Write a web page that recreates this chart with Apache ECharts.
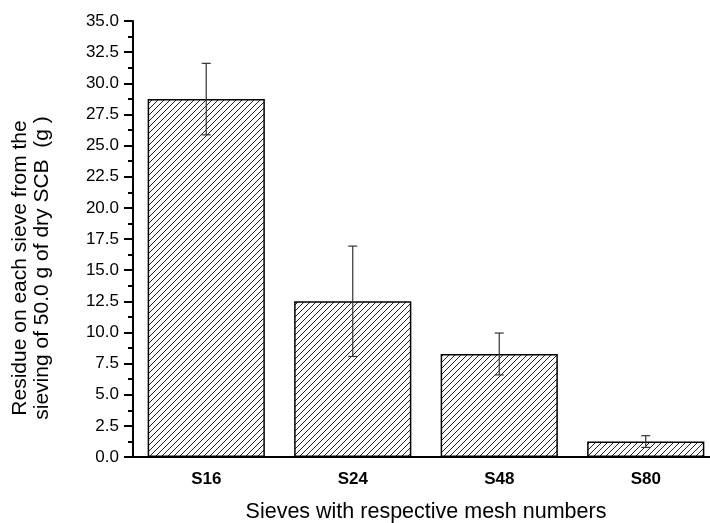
<!DOCTYPE html>
<html>
<head>
<meta charset="utf-8">
<script src="https://cdn.jsdelivr.net/npm/echarts@6/dist/echarts.min.js"></script>
<style>html,body{margin:0;padding:0;background:#fff}#c{width:710px;height:523px}</style>
</head>
<body>
<div id="c"></div>
<script>
const categories = ['S16', 'S24', 'S48', 'S80'];
const residue = [28.73, 12.5, 8.27, 1.24];
const errors = [2.87, 4.43, 1.68, 0.47];

function hatch() {
  const s = 6, c = document.createElement('canvas');
  c.width = s; c.height = s;
  const g = c.getContext('2d');
  g.strokeStyle = '#222'; g.lineWidth = 1;
  g.beginPath();
  g.moveTo(-1, s + 1); g.lineTo(s + 1, -1);
  g.moveTo(-1, 1); g.lineTo(1, -1);
  g.moveTo(s - 1, s + 1); g.lineTo(s + 1, s - 1);
  g.stroke();
  return c;
}

const chart = echarts.init(document.getElementById('c'), null, {renderer: 'canvas'});
const font = 'Liberation Sans, Arial, sans-serif';
chart.setOption({
  animation: false,
  backgroundColor: '#fff',
  grid: {left: 133, top: 21, height: 436, width: 586, containLabel: false, outerBoundsMode: 'none'},
  xAxis: [{
    type: 'category', data: categories, position: 'bottom',
    axisLine: {lineStyle: {color: '#000', width: 2}},
    axisTick: {alignWithLabel: true, length: 8, lineStyle: {color: '#000', width: 2}},
    axisLabel: {color: '#000', fontWeight: 'bold', fontSize: 17, fontFamily: font, margin: 14},
    name: 'Sieves with respective mesh numbers', nameLocation: 'middle', nameGap: 44,
    nameTextStyle: {color: '#000', fontSize: 21.5, fontFamily: font}
  }, {
    type: 'category', data: categories, position: 'bottom',
    axisLine: {show: false},
    axisTick: {length: 5, lineStyle: {color: '#000', width: 2}},
    axisLabel: {show: false}
  }],
  yAxis: {
    type: 'value', min: 0, max: 35, interval: 2.5,
    axisLine: {show: true, lineStyle: {color: '#000', width: 2}},
    axisTick: {show: true, length: 9, lineStyle: {color: '#000', width: 2}},
    minorTick: {show: true, splitNumber: 2, length: 5, lineStyle: {color: '#000', width: 2}},
    splitLine: {show: false},
    axisLabel: {color: '#000', fontSize: 17, fontFamily: font, margin: 14, formatter: v => v.toFixed(1)},
    name: 'Residue on each sieve from the\nsieving of 50.0 g of dry SCB  (g )',
    nameLocation: 'middle', nameGap: 80,
    nameTextStyle: {color: '#000', fontSize: 21, fontFamily: font, lineHeight: 22, padding: [0, 58, 0, 0]}
  },
  series: [{
    type: 'bar', data: residue, xAxisIndex: 0, barWidth: '80%',
    itemStyle: {color: {image: hatch(), repeat: 'repeat'}, borderColor: '#000', borderWidth: 1.5}
  }, {
    type: 'custom', xAxisIndex: 0, z: 10,
    data: residue.map((v, i) => [i, v - errors[i], v + errors[i]]),
    renderItem: function (params, api) {
      const lo = api.coord([api.value(0), api.value(1)]);
      const hi = api.coord([api.value(0), api.value(2)]);
      const w = 4.5;
      const st = {stroke: '#333', lineWidth: 1.2};
      return {type: 'group', children: [
        {type: 'line', shape: {x1: hi[0], y1: hi[1], x2: lo[0], y2: lo[1]}, style: st},
        {type: 'line', shape: {x1: hi[0] - w, y1: hi[1], x2: hi[0] + w, y2: hi[1]}, style: st},
        {type: 'line', shape: {x1: lo[0] - w, y1: lo[1], x2: lo[0] + w, y2: lo[1]}, style: st}
      ]};
    }
  }]
});
</script>
</body>
</html>
